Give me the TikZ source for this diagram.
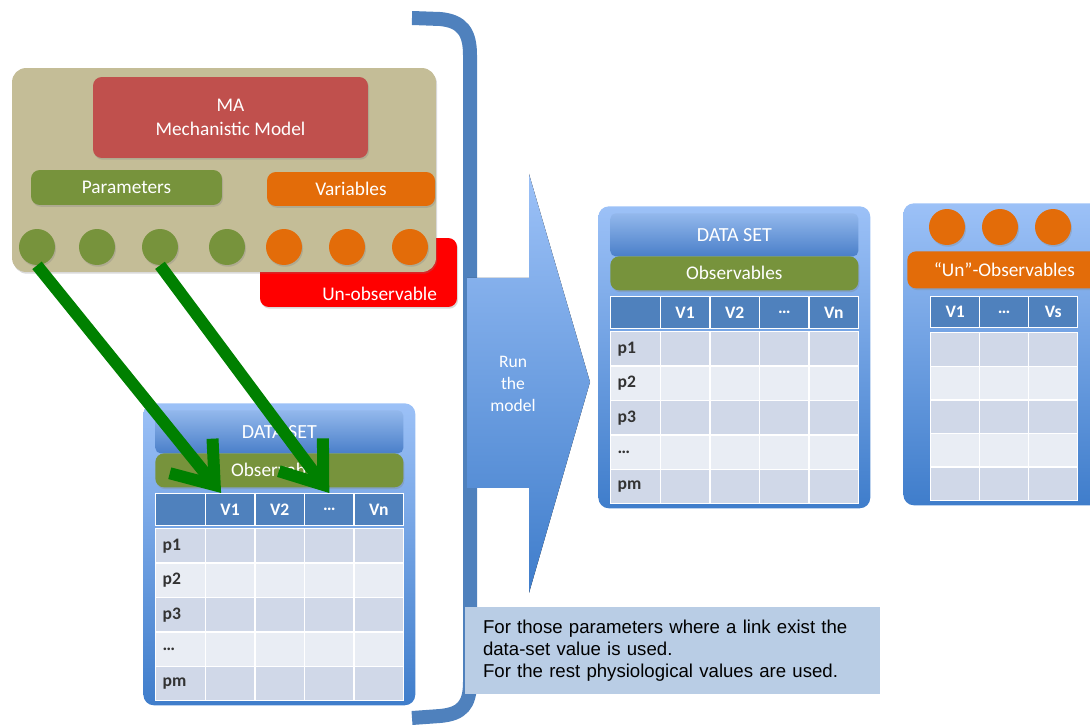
\documentclass[tikz,border=0pt]{standalone}
\usepackage{fontspec}
\setmainfont{Carlito}
\newfontfamily\notefont{Liberation Sans}
\usetikzlibrary{arrows.meta,shadows}

\definecolor{modeltan}{HTML}{C4BD97}
\definecolor{mechred}{HTML}{C0504D}
\definecolor{paramgreen}{HTML}{77933C}
\definecolor{varorange}{HTML}{E36C09}
\definecolor{unobsred}{HTML}{FF0000}
\definecolor{hdrblue}{HTML}{4F81BD}
\definecolor{rowdark}{HTML}{D0D8E8}
\definecolor{rowlight}{HTML}{E9EDF4}
\definecolor{panelhi}{HTML}{9CC1F7}
\definecolor{panello}{HTML}{3F7DCB}
\definecolor{titlehi}{HTML}{93B8EC}
\definecolor{titlelo}{HTML}{4A7FC9}
\definecolor{notefill}{HTML}{B9CDE5}
\definecolor{braceblue}{HTML}{4F81BD}
\definecolor{linkgreen}{HTML}{008000}
\definecolor{labelgray}{HTML}{333333}

\tikzset{
  shad/.style={drop shadow={opacity=0.3,shadow xshift=0.6pt,shadow yshift=-1pt}},
  box/.style={rounded corners=5pt,text=white,align=center,inner sep=0pt,shad,
    font=\fontsize{11}{13.6}\selectfont},
  dot/.style={circle,minimum size=0.72cm,inner sep=0pt,shad},
  panel/.style={rounded corners=6pt,top color=panelhi,bottom color=panello,inner sep=0pt,anchor=north west},
  titleband/.style={rounded corners=3pt,top color=titlehi,bottom color=titlelo,text=white,
    minimum width=4.96cm,minimum height=0.86cm,inner sep=0pt,anchor=north west,
    font=\fontsize{11.4}{12}\selectfont},
  obsband/.style={box,fill=paramgreen,minimum width=4.96cm,minimum height=0.68cm,anchor=north west},
  hdrcell/.style={draw=white,line width=0.8pt,fill=hdrblue,text=white,font=\bfseries,
    minimum width=0.992cm,minimum height=0.64cm,inner sep=0pt,anchor=north west},
  cell/.style={draw=white,line width=0.8pt,minimum width=0.992cm,minimum height=0.688cm,
    inner sep=0pt,anchor=north west},
  rowlbl/.style={cell,inner xsep=0.14cm,text width=0.712cm,align=left,text=labelgray,font=\bfseries},
  link/.style={line width=0.24cm,draw=linkgreen,-{Straight Barb[length=0.75cm,width=1.1cm]}},
  brace/.style={line width=0.28cm,draw=braceblue},
  note/.style={fill=notefill,minimum height=1.74cm,text width=7.58cm,inner xsep=0.36cm,
    align=left,font=\notefont\fontsize{10.6}{12.5}\selectfont},
}

% data set panel: #1 name prefix, #2/#3 top left corner
\newcommand{\dataset}[3]{%
  \node[panel,minimum width=5.44cm,minimum height=6.04cm] (#1panel) at (#2,#3) {};
  \node[titleband] (#1title) at (#2+12,#3+7) {DATA SET};
  \node[obsband] (#1obs) at (#2+12,#3+50) {Observables};
  \foreach \c/\t in {0/,1/V1,2/V2,3/\dots,4/Vn}
    \node[hdrcell] (#1h\c) at (#2+12+\c*49.6,#3+90) {\t};
  \foreach \r/\t/\f in {1/p1/rowdark,2/p2/rowlight,3/p3/rowdark,4/\dots/rowlight,5/pm/rowdark}{
    \node[rowlbl,fill=\f] (#1r\r) at (#2+12,#3+125+\r*34.4-34.4) {\t};
    \foreach \c in {1,2,3,4}
      \node[cell,fill=\f] (#1r\r c\c) at (#2+12+\c*49.6,#3+125+\r*34.4-34.4) {};
  }
}

\begin{document}
\begin{tikzpicture}[x=0.02cm,y=-0.02cm]
  \useasboundingbox (0,0) rectangle (1090,726);

  % bracket round the model part
  \draw[brace] (412,18) -- (440,19) .. controls (462,21) and (470,32) .. (470,55)
    -- (470,682) .. controls (470,705) and (462,714) .. (440,716) -- (412,718);

  % the model
  \node[box,fill=unobsred,minimum width=3.94cm,minimum height=1.38cm] (unobs) at (358.5,272.5) {};
  \node[text=white,anchor=south east,inner sep=0pt,font=\fontsize{11}{13}\selectfont] (unobslbl) at ([xshift=-0.4cm,yshift=0.12cm]unobs.south east) {Un-observable};
  \node[box,fill=modeltan,rounded corners=8pt,minimum width=8.48cm,minimum height=4.08cm] (model) at (224,170) {};
  \node[box,fill=mechred,minimum width=5.5cm,minimum height=1.62cm] (mech) at (230.5,117.5) {MA\\Mechanistic Model};
  \node[box,fill=paramgreen,minimum width=3.82cm,minimum height=0.7cm] (par) at (126.5,187.5) {Parameters};
  \node[box,fill=varorange,minimum width=3.36cm,minimum height=0.68cm] (var) at (351,189) {Variables};
  \node[dot,fill=paramgreen] (pa1) at (37,247) {};
  \node[dot,fill=paramgreen] (pa2) at (97,247) {};
  \node[dot,fill=paramgreen] (pa3) at (160,247) {};
  \node[dot,fill=paramgreen] (pa4) at (227,247) {};
  \node[dot,fill=varorange] (va1) at (284,247) {};
  \node[dot,fill=varorange] (va2) at (347,247) {};
  \node[dot,fill=varorange] (va3) at (410,247) {};

  % data sets
  \dataset{dl}{143}{403}
  \dataset{dr}{598}{206}

  % links parameter -> data set column
  \draw[link] (pa1.south) -- ([xshift=-0.18cm]dlh1.north);
  \draw[link] (pa3.south) -- (dlh3.north);

  % run the model
  \fill[top color=panelhi,bottom color=panello] (467,278) -- (529,278) -- (529,174) -- (590,382)
    -- (529,593) -- (529,488) -- (467,488) -- cycle;
  \node[text=white,align=center,font=\fontsize{10}{12.5}\selectfont] (run) at (513,384) {Run\\the\\model};

  % un-observables
  \node[panel,minimum width=4.2cm,minimum height=6.04cm] (upanel) at (903,203) {};
  \node[dot,fill=varorange] (uo1) at (947,227) {};
  \node[dot,fill=varorange] (uo2) at (1000,227) {};
  \node[dot,fill=varorange] (uo3) at (1053,227) {};
  \node[box,fill=varorange,minimum width=3.88cm,minimum height=0.74cm,anchor=north west] (uband) at (907,251) {“Un”-Observables};
  \foreach \c/\t in {0/V1,1/\dots,2/Vs}
    \node[hdrcell,minimum width=0.98cm,minimum height=0.62cm] (uh\c) at (930+\c*49,296) {\t};
  \foreach \r/\f in {1/rowdark,2/rowlight,3/rowdark,4/rowlight,5/rowdark}
    \foreach \c in {0,1,2}
      \node[cell,fill=\f,minimum width=0.98cm,minimum height=0.672cm] (ur\r c\c) at (930+\c*49,332+\r*33.6-33.6) {};

  % note
  \node[note] (remark) at (672.5,650.5) {For those parameters where a link exist the\\data-set value is used.\\For the rest physiological values are used.};
\end{tikzpicture}
\end{document}
